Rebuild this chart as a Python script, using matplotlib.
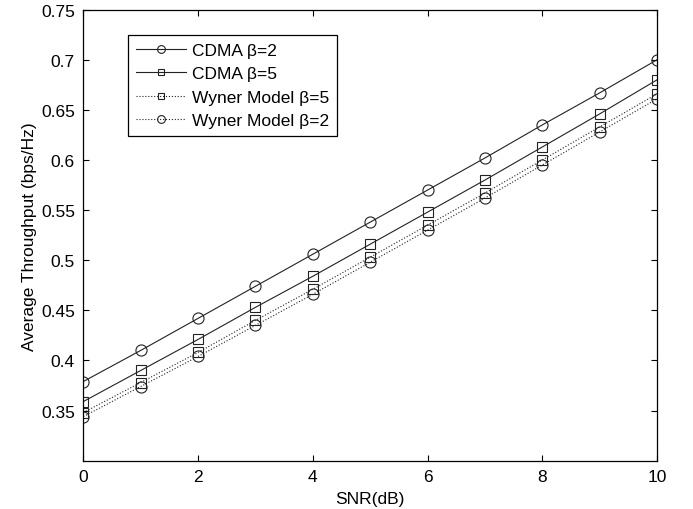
import numpy as np
import matplotlib
matplotlib.use("Agg")
import matplotlib.pyplot as plt

plt.rcParams['font.family'] = ['Liberation Sans', 'DejaVu Sans']

snr = [0, 1, 2, 3, 4, 5, 6, 7, 8, 9, 10]
cdma_b2 = [0.379, 0.410, 0.442, 0.474, 0.506, 0.538, 0.570, 0.602, 0.635, 0.667, 0.700]
cdma_b5 = [0.359, 0.390, 0.421, 0.453, 0.484, 0.516, 0.548, 0.580, 0.613, 0.646, 0.680]
wyner_b5 = [0.348, 0.378, 0.408, 0.440, 0.471, 0.503, 0.535, 0.567, 0.600, 0.633, 0.666]
wyner_b2 = [0.344, 0.374, 0.404, 0.435, 0.466, 0.498, 0.530, 0.562, 0.595, 0.628, 0.661]

labels = ['CDMA β=2', 'CDMA β=5', 'Wyner Model β=5', 'Wyner Model β=2']
yticks = [0.35, 0.4, 0.45, 0.5, 0.55, 0.6, 0.65, 0.7, 0.75]
yticklabels = ['0.35', '0.4', '0.45', '0.5', '0.55', '0.6', '0.65', '0.7', '0.75']
xticks = [0, 2, 4, 6, 8, 10]

fig = plt.figure(figsize=(6.93, 5.10), dpi=100)
ax = fig.add_axes([83.3/693, 1 - 461.7/510, (657 - 83.3)/693, (461.7 - 10.7)/510])

lw = 0.8
ms = 8
col = '#222222'
ax.plot(snr, cdma_b2, '-', marker='o', color=col, lw=lw, ms=ms, mfc='none', mew=0.8, label=labels[0])
ax.plot(snr, cdma_b5, '-', marker='s', color=col, lw=lw, ms=ms - 1, mfc='none', mew=0.8, label=labels[1])
ax.plot(snr, wyner_b5, ':', marker='s', color=col, lw=lw, ms=ms - 1, mfc='none', mew=0.8, label=labels[2])
ax.plot(snr, wyner_b2, ':', marker='o', color=col, lw=lw, ms=ms, mfc='none', mew=0.8, label=labels[3])

ax.set_xlim(0, 10)
ax.set_ylim(0.3, 0.75)
ax.set_xticks(xticks)
ax.set_yticks(yticks)
ax.set_yticklabels(yticklabels)
ax.tick_params(direction='in', top=True, right=True, length=4, width=0.8,
               labelsize=12.5, pad=6)
for s in ax.spines.values():
    s.set_linewidth(0.9)

ax.set_xlabel('SNR(dB)', fontsize=12.5, labelpad=5)
ax.set_ylabel('Average Throughput (bps/Hz)', fontsize=12.5, labelpad=3)

# legend box in the upper left, smaller markers in the handles
leg = ax.legend(loc='upper left', bbox_to_anchor=((128 - 83.3)/573.7, (461.7 - 36)/451),
                borderaxespad=0, fontsize=12.5, handlelength=2.9, labelspacing=0.47,
                borderpad=0.45, handletextpad=0.35, markerscale=0.7, fancybox=False,
                framealpha=1, edgecolor='black')
leg.get_frame().set_linewidth(0.9)

fig.savefig('out.png', dpi=100)
